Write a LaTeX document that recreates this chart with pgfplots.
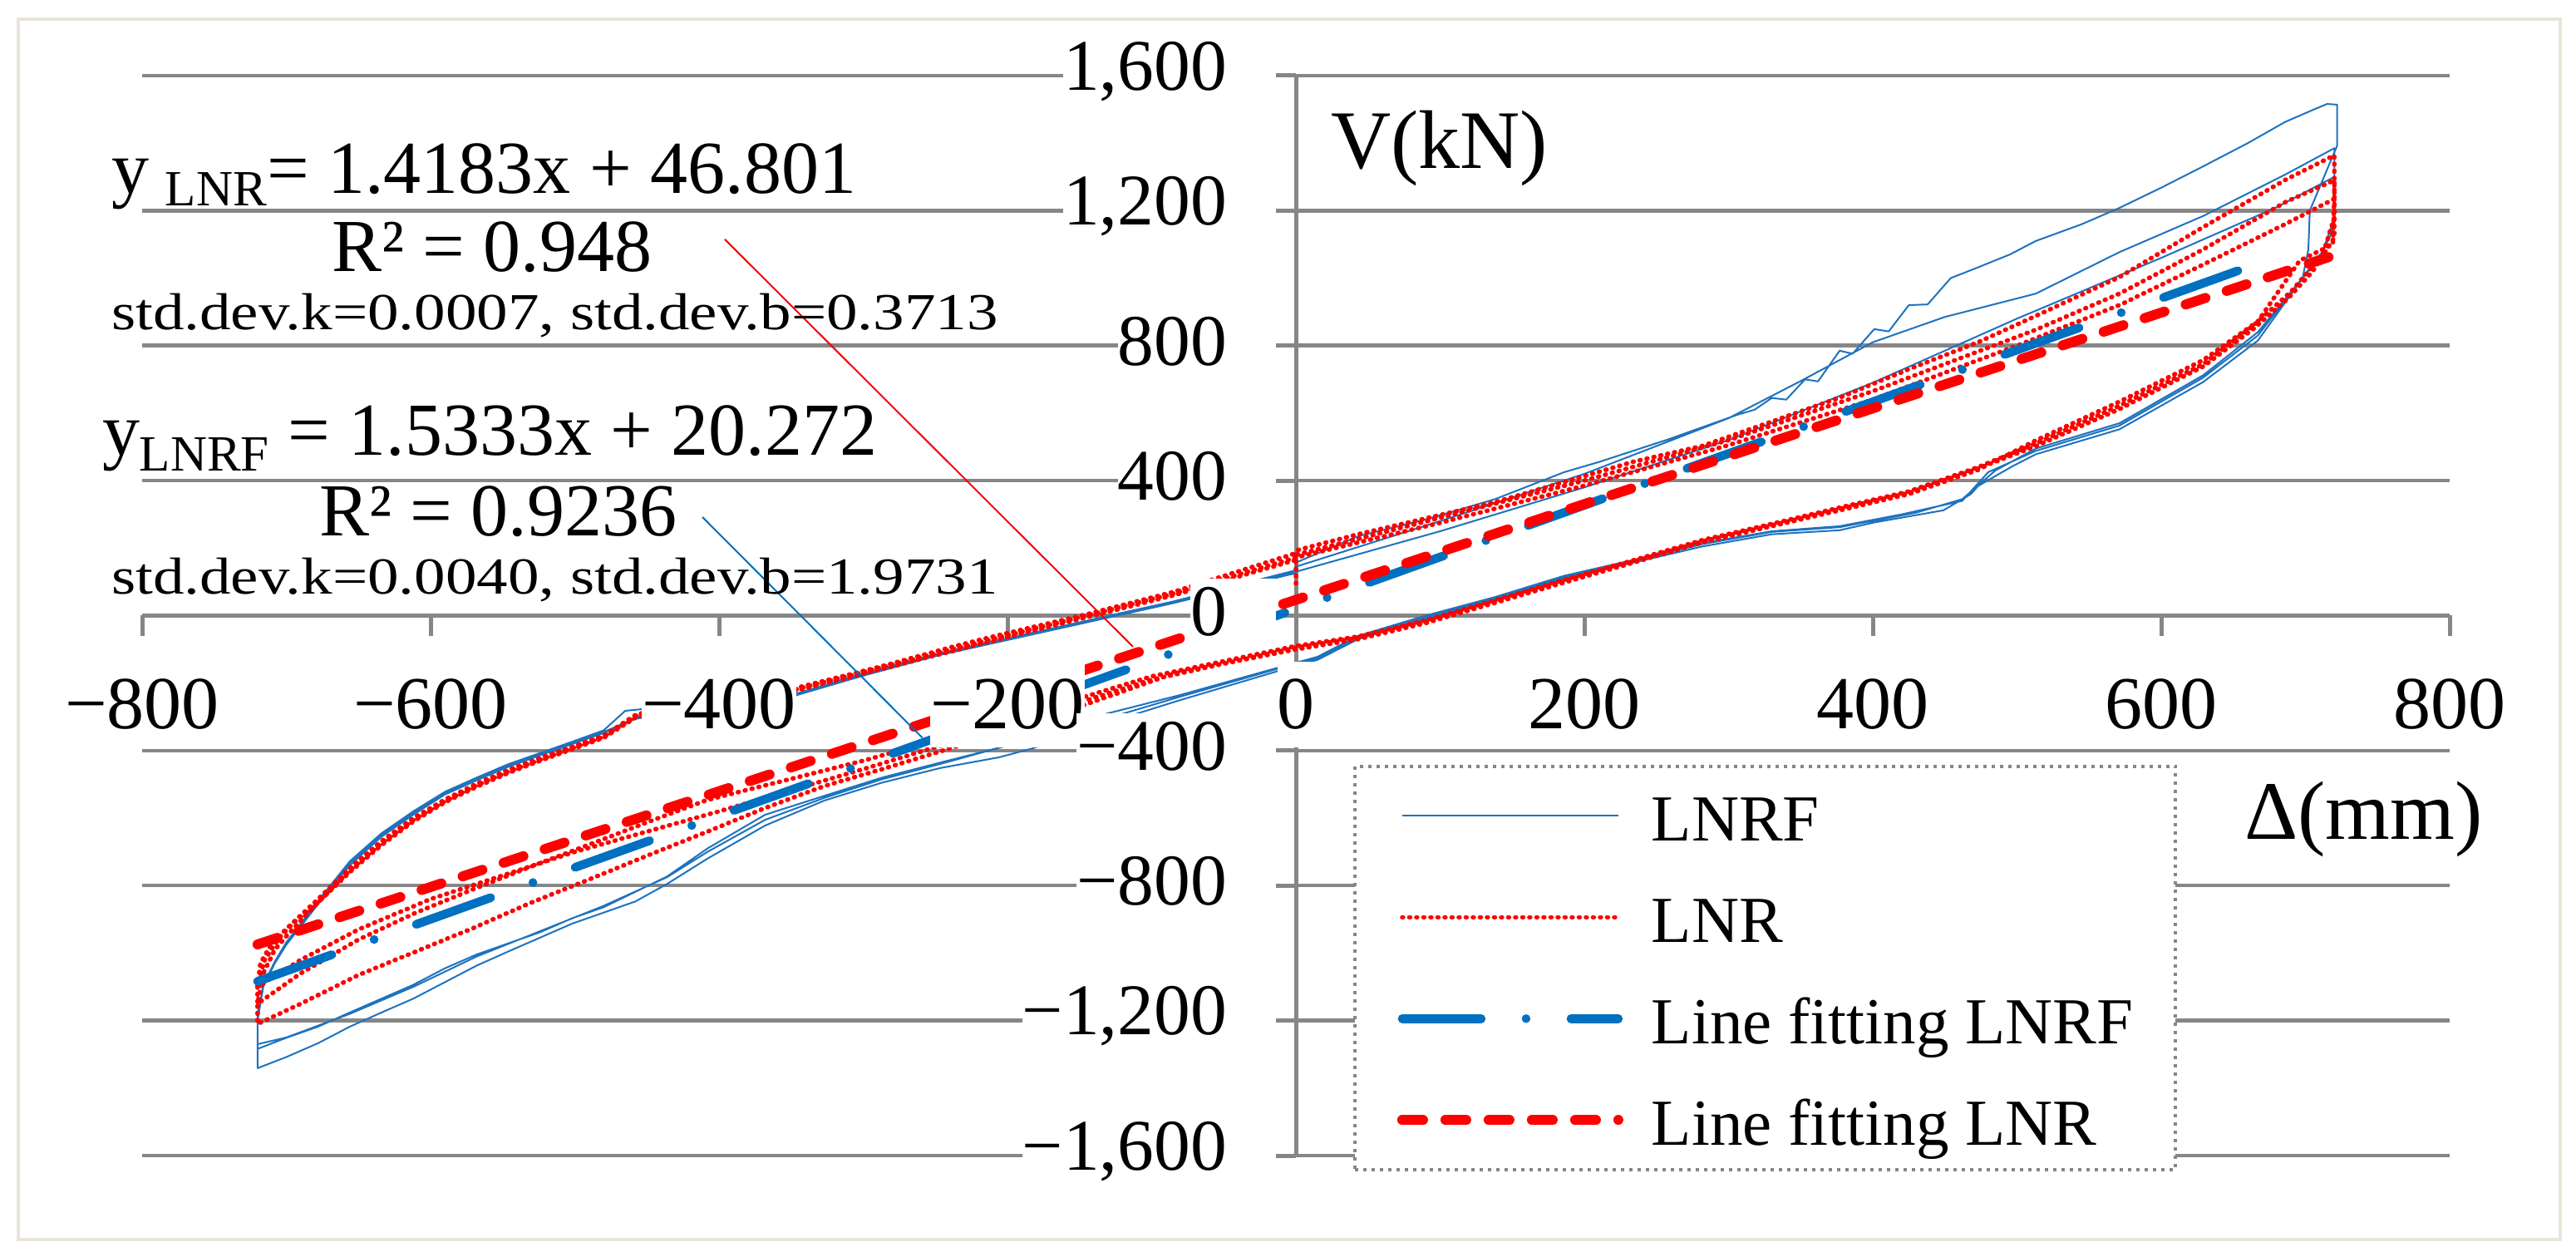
\documentclass[border=0pt]{standalone}
\usepackage{fontspec}
\setmainfont{Liberation Serif}
\usepackage{pgfplots}
\pgfplotsset{compat=1.18}
\definecolor{lnrfblue}{RGB}{30,115,190}
\definecolor{fitblue}{RGB}{0,112,192}
\definecolor{gridgray}{RGB}{134,134,134}
\definecolor{framec}{RGB}{232,229,216}
\newcommand\fs[1]{\fontsize{#1}{#1}\selectfont}
\newcommand\ylab{\ifcase\ticknum −1,600\or −1,200\or −800\or −400\or 0\or 400\or 800\or 1,200\or 1,600\fi\rule{11.8pt}{0pt}}
\newcommand\xlab{\ifcase\ticknum −800\or −600\or −400\or −200\or 0\or 200\or 400\or 600\or 800\fi}
\pgfplotsset{
  layers/mylayers/.define layer set={axis background,axis grid,axis ticks,axis lines,pre main,main,axis tick labels,axis descriptions,axis foreground}{
    grid style={/pgfplots/on layer=axis grid},
    tick style={/pgfplots/on layer=axis ticks},
    axis line style={/pgfplots/on layer=axis lines},
    label style={/pgfplots/on layer=axis descriptions},
    legend style={/pgfplots/on layer=axis descriptions},
    title style={/pgfplots/on layer=axis descriptions},
    ticklabel style={/pgfplots/on layer=axis tick labels},
  },
}
\begin{document}
\begin{tikzpicture}
\draw[framec, line width=0.8pt] (4.4pt,4pt) rectangle (616pt,297.6pt);
\begin{axis}[
  set layers=mylayers,
  at={(34.2pt,24.2pt)}, anchor=south west,
  scale only axis, width=555.2pt, height=259.8pt,
  xmin=-800, xmax=800, ymin=-1600, ymax=1600,
  enlargelimits=false,
  axis lines=middle,
  axis line style={gridgray, line width=1pt, -},
  xtick={-800,-600,-400,-200,0,200,400,600,800},
  ytick={-1600,-1200,-800,-400,0,400,800,1200,1600},
  hide obscured x ticks=false, hide obscured y ticks=false,
  xticklabel={\xlab},
  yticklabel={\ylab},
  ymajorgrids, major grid style={gridgray, line width=0.9pt},
  tick align=outside, major tick length=5pt,
  tick style={gridgray, line width=1pt},
  xticklabel style={font=\fs{18pt}, fill=white, inner xsep=0pt, inner ysep=4.2pt, anchor=north, yshift=-5.9pt},
  yticklabel style={font=\fs{17.5pt}, fill=white, inner xsep=0pt, inner ysep=2pt, anchor=east, xshift=0.4pt, yshift=1pt},
  legend style={at={(0.5249,0.3618)}, anchor=north west, draw=gridgray, line width=0.7pt,
    dash pattern=on 0.8pt off 1.2pt, fill=white, inner xsep=10.2pt, inner ysep=3.9pt,
    row sep=8.4pt, font=\fs{15.8pt},
    nodes={inner sep=0pt, text height=14pt, text depth=2pt},
    /tikz/every odd column/.append style={column sep=6.8pt}},
  legend cell align=left,
  legend image code/.code={\draw[#1] (0pt,0pt) -- (52pt,0pt);},
]
% LNRF
\addplot[lnrfblue, solid, line width=0.4pt, line join=round] coordinates {
(0,110) (0,130) (100,250) (200,380) (300,520) (400,690) (500,880) (600,1060) (680,1210) (720,1300)
(720,1150) (710,1060) (692,970) (667,840) (629,712) (571,570) (513,495) (485,430) (462,345) (430,305) (377,262) (330,248) (282,212) (234,162) (186,114) (138,50) (90,-6) (43,-66) (15,-126) (-13,-158) (-80,-240) (-151,-330) (-200,-385) (-247,-440) (-287,-485) (-327,-540) (-368,-605) (-408,-700) (-436,-775) (-480,-860) (-524,-935) (-568,-1010) (-612,-1100) (-656,-1180) (-700,-1250) (-720,-1270)
(-720,-1180) (-716,-1100) (-708,-1030) (-700,-975) (-678,-855) (-656,-740) (-634,-655) (-612,-590) (-590,-530) (-568,-488) (-546,-448) (-524,-414) (-502,-381) (-480,-348) (-458,-306) (-400,-265) (-348,-235) (-300,-175) (-247,-117) (-166,-40) (-85,37) (-4,122) (0,125)
(0,145) (100,280) (200,420) (300,585) (350,695) (400,810) (450,885) (513,954) (571,1077) (629,1184) (686,1307) (720,1385)
(720,1180) (712,1080) (695,985) (667,830) (629,705) (571,563) (513,488) (480,425) (462,340) (420,300) (377,265) (330,250) (282,215) (234,165) (186,118) (138,55) (90,0) (43,-60) (15,-122) (-13,-155) (-80,-235) (-151,-312) (-186,-370) (-247,-436) (-287,-480) (-327,-534) (-368,-590) (-408,-690) (-436,-773) (-480,-864) (-502,-897) (-524,-938) (-546,-971) (-568,-1004) (-590,-1045) (-612,-1094) (-634,-1135) (-656,-1176) (-678,-1218) (-700,-1251) (-720,-1284)
(-720,-1190) (-716,-1095) (-708,-1025) (-700,-968) (-678,-845) (-656,-728) (-634,-645) (-612,-580) (-590,-522) (-568,-480) (-546,-440) (-524,-407) (-502,-374) (-480,-340) (-465,-282) (-400,-255) (-348,-233) (-300,-172) (-247,-112) (-166,-35) (-85,42) (-4,130) (0,135)
(0,157) (43,235) (90,285) (138,345) (186,425) (210,455) (258,522) (306,595) (318,610) (330,645) (340,640) (353,700) (362,694) (377,785) (386,776) (401,849) (411,842) (425,920) (438,922) (454,1000) (473,1032) (495,1070) (513,1110) (545,1160) (571,1208) (600,1268) (629,1331) (660,1400) (686,1463) (706,1500) (715,1516) (722,1514)
(722,1393) (703,1200) (702,1085) (698,1000) (667,815) (629,692) (571,552) (513,478) (497,443) (473,384) (468,360) (449,312) (401,276) (377,253) (330,241) (282,205) (234,157) (186,110) (138,45) (90,-10) (43,-70) (15,-131) (-13,-165) (-80,-250) (-151,-345) (-183,-394) (-206,-420) (-247,-452) (-287,-495) (-327,-548) (-368,-622) (-408,-720) (-436,-795) (-458,-847) (-480,-880) (-502,-913) (-524,-954) (-546,-995) (-568,-1037) (-590,-1086) (-612,-1135) (-634,-1176) (-656,-1218) (-678,-1267) (-700,-1308) (-720,-1341)
(-720,-1201) (-716,-1100) (-708,-1030) (-700,-971) (-678,-848) (-656,-732) (-634,-650) (-612,-584) (-590,-526) (-568,-485) (-546,-444) (-524,-411) (-502,-378) (-480,-345) (-458,-304) (-449,-285) (-400,-258) (-348,-238) (-300,-178) (-247,-117) (-166,-40) (-85,37) (-4,125) (0,128)
};
\addlegendentry{LNRF}
% LNR
\addplot[red, line width=1.1pt, line cap=round, dash pattern=on 0.2pt off 1.5pt] coordinates {
(0,95) (0,193) (43,241) (90,288) (138,336) (186,396) (234,456) (282,503) (330,575) (377,646) (425,730) (473,810) (513,888) (571,1003) (629,1151) (686,1291) (720,1364)
(720,1250) (719,1100) (696,1052) (667,872) (629,757) (571,634) (513,519) (473,432) (425,360) (377,312) (330,265) (282,217) (234,157) (186,98) (138,38) (90,-22) (43,-70) (0,-100) (-85,-172) (-151,-271) (-200,-340) (-247,-403) (-287,-455) (-327,-505) (-368,-570) (-408,-640) (-449,-710) (-489,-780) (-530,-850) (-570,-925) (-610,-995) (-650,-1065) (-690,-1150) (-720,-1210)
(-720,-1150) (-716,-1060) (-708,-990) (-700,-950) (-680,-858) (-656,-760) (-634,-680) (-612,-610) (-590,-553) (-568,-507) (-546,-466) (-524,-430) (-502,-396) (-480,-362) (-457,-300) (-400,-258) (-348,-216) (-287,-150) (-236,-90) (-206,-58) (-145,4) (-85,70) (0,185)
(0,180) (100,290) (200,400) (300,520) (400,665) (513,847) (571,954) (629,1085) (686,1225) (720,1290)
(720,1180) (712,1070) (690,960) (664,860) (629,745) (571,622) (513,510) (473,440) (425,368) (377,320) (330,272) (282,224) (234,164) (186,106) (138,46) (90,-14) (43,-62) (0,-90) (-100,-180) (-200,-310) (-300,-430) (-408,-546) (-449,-611) (-489,-677) (-530,-743) (-570,-810) (-610,-880) (-650,-960) (-690,-1060) (-720,-1150)
(-720,-1090) (-715,-1020) (-706,-960) (-695,-910) (-678,-850) (-656,-755) (-634,-675) (-612,-606) (-590,-550) (-568,-503) (-546,-462) (-524,-427) (-502,-393) (-480,-359) (-457,-296) (-400,-255) (-348,-220) (-287,-153) (-206,-65) (-145,0) (-85,65) (0,172)
(100,275) (200,385) (300,505) (400,640) (500,800) (571,920) (629,1040) (686,1160) (720,1235)
(720,1120) (705,1020) (688,940) (664,850) (629,738) (571,612) (513,502) (473,436) (425,364) (377,316) (330,268) (282,220) (234,160) (186,102) (138,42) (90,-18) (43,-66) (0,-95) (-100,-190) (-200,-325) (-300,-455) (-400,-580) (-500,-700) (-600,-840) (-650,-930) (-690,-1020) (-720,-1100)
(-718,-1030) (-710,-970) (-698,-920) (-678,-840) (-656,-748) (-634,-668) (-612,-600) (-590,-545) (-568,-498) (-546,-457) (-524,-422) (-502,-389) (-480,-356) (-457,-292) (-400,-252) (-348,-224) (-287,-158) (-206,-70) (-145,-5) (-85,60) (0,165)
};
\addlegendentry{LNR}
% fits
\addplot[fitblue, line width=2.1pt, line cap=round, dash pattern=on 19pt off 10.8pt on 0pt off 10.8pt] coordinates {(-720,-1083.7) (681,1064.5)};
\addlegendentry{Line fitting LNRF}
\addplot[red, line width=2.4pt, line cap=round, dash pattern=on 5pt off 5.4pt] coordinates {(-720,-974.4) (716,1062.3)};
\addlegendentry{Line fitting LNR}
% leader lines
\addplot[forget plot, red, line width=0.4pt] coordinates {(-396,1115) (-113,-92)};
\addplot[forget plot, fitblue, line width=0.4pt] coordinates {(-411.5,292) (-259,-362)};
\end{axis}
\node[anchor=base west, inner sep=0pt, font=\fs{18pt}] at (26.6pt,255.6pt) {y\kern4pt\raisebox{-3pt}{\fs{12.2pt}LNR}= 1.4183x + 46.801};
\node[anchor=base west, inner sep=0pt, font=\fs{18pt}] at (79.6pt,236.8pt) {R² = 0.948};
\node[anchor=base west, inner sep=0pt] at (26.6pt,222.8pt) {\scalebox{1.2}[1]{\fs{12.5pt}std.dev.k=0.0007, std.dev.b=0.3713}};
\node[anchor=base west, inner sep=0pt, font=\fs{18pt}] at (24.4pt,192.6pt) {y\raisebox{-3.8pt}{\fs{12.2pt}LNRF} = 1.5333x + 20.272};
\node[anchor=base west, inner sep=0pt, font=\fs{18pt}] at (76.6pt,173.2pt) {R² = 0.9236};
\node[anchor=base west, inner sep=0pt] at (26.6pt,159.2pt) {\scalebox{1.2}[1]{\fs{12.5pt}std.dev.k=0.0040, std.dev.b=1.9731}};
\node[anchor=base west, inner sep=0pt, font=\fs{20pt}] at (320pt,261.6pt) {V(kN)};
\node[anchor=base west, inner sep=0pt, font=\fs{20pt}] at (539.8pt,100.2pt) {Δ(mm)};
\pgfresetboundingbox
\useasboundingbox (0,0) rectangle (619.8pt,302.2pt);
\end{tikzpicture}
\end{document}
